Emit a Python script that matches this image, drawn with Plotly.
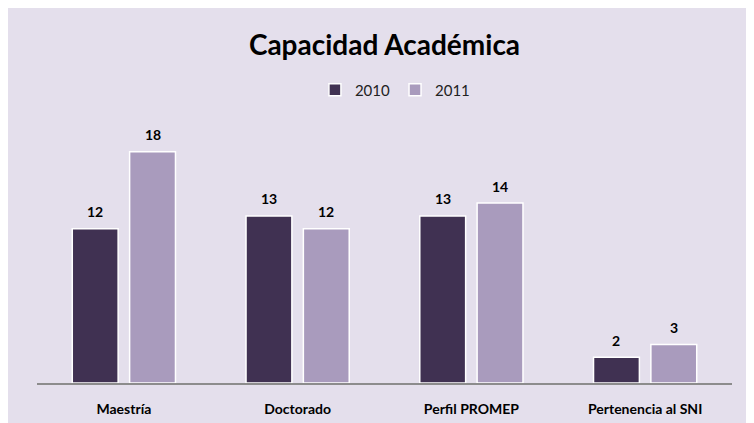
import plotly.graph_objects as go

categorias = ["Maestría", "Doctorado", "Perfil PROMEP", "Pertenencia al SNI"]
anios = ["2010", "2011"]
valores_2010 = [12, 13, 13, 2]
valores_2011 = [18, 12, 14, 3]

colores = ["#403152", "#A99BBD"]
fondo = "#E4DFEC"
fuente = "Lato, 'Open Sans', sans-serif"

# the page adds an 8px white margin round the figure
W, H = 744, 416
L, R, T, B = 29, 20, 118, 41
pw, ph = W - L - R, H - T - B
bargap, groupgap = 0.34, 0.2
slot = pw / len(categorias) * (1 - bargap) / 2

fig = go.Figure()
for i, (anio, vals, col) in enumerate(zip(anios, [valores_2010, valores_2011], colores)):
    fig.add_bar(x=categorias, y=vals, name=anio, marker_color=col,
                marker_line_color="white", marker_line_width=1.5)
    for c, v in zip(categorias, vals):
        fig.add_annotation(x=c, y=v, text=f"<b>{v}</b>", showarrow=False,
                           xshift=(i - 0.5) * slot, yshift=17, yanchor="middle",
                           font=dict(size=14, color="black", family=fuente))

fig.update_layout(
    width=W, height=H,
    margin=dict(l=L, r=R, t=T, b=B),
    paper_bgcolor=fondo, plot_bgcolor=fondo,
    barmode="group", bargap=bargap, bargroupgap=groupgap,
    title=dict(text="<b>Capacidad Académica</b>", x=0.5, xref="paper",
               y=1 - 37 / H, yanchor="middle",
               font=dict(size=28, color="black", family=fuente)),
    legend=dict(orientation="h", x=0.515, xanchor="center", y=(H - B - 82) / ph, yanchor="middle",
                font=dict(size=15, color="#222222", family=fuente),
                itemwidth=30, bgcolor="rgba(0,0,0,0)", traceorder="normal"),
    showlegend=True,
)
fig.update_xaxes(showline=True, linecolor="#8C8C8C", linewidth=1.5, ticks="",
                 ticklabelstandoff=12, automargin=False,
                 tickfont=dict(size=14, color="black", family=fuente, weight="bold"))
fig.update_yaxes(range=[0, 20], visible=False, showgrid=False)

fig.write_html("out.html")
